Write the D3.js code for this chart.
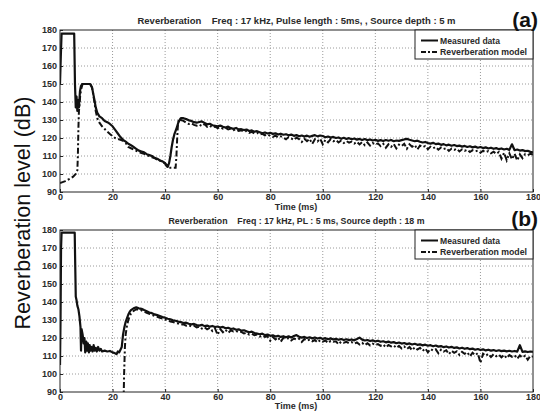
<!DOCTYPE html>
<html>
<head>
<meta charset="utf-8">
<script src="https://cdn.jsdelivr.net/npm/d3@7"></script>
<style>
  html, body { margin: 0; padding: 0; background: #fff; }
  svg { display: block; }
  text { font-family: Arial, "Liberation Sans", sans-serif; }
</style>
</head>
<body>
<svg id="chart" width="540" height="414"></svg>
<script>
// ---------------- DATA ----------------
const xTicks = [0, 20, 40, 60, 80, 100, 120, 140, 160, 180];
const yTicks = [90, 100, 110, 120, 130, 140, 150, 160, 170, 180];
const seriesNames = ["Measured data", "Reverberation model"];
const titleA = "Reverberation    Freq : 17 kHz, Pulse length : 5ms, , Source depth : 5 m";
const titleB = "Reverberation    Freq : 17 kHz, PL : 5 ms, Source depth : 18 m";

// Panel (a) measured: explicit head [time, dB], then tail at 1 ms steps from 47 ms
const measA_head = [[0,150],[0.3,165],[0.6,178],[5.4,178],[5.7,150],[6,137],[6.3,143],[6.6,135],[6.9,141],[7.2,137],[7.6,146],[8,149],[8.5,150],[11.5,150],[12.2,148],[13,142],[13.6,137],[14.2,134],[15,132],[16,131],[17,129.5],[18,128.8],[19,127.8],[20,126.5],[21,124.5],[22,122.5],[23,120.5],[24,119],[25,118],[26,116.8],[27,116],[28,115],[29,114],[30,113],[31,112.5],[32,112],[33,111],[34,110.5],[35,110],[36,109],[37,108.5],[38,107.5],[39,107],[40,106],[41,104],[41.5,106],[42,110],[42.5,115],[43,119],[43.5,122],[44,124],[44.5,126],[45,128.5],[45.5,130],[46,131]];
const measA_tailStart = 47;
const measA_tail = [131,130.5,129.8,129.5,128.8,128.5,128.9,129.2,128.4,127.6,127.9,127.1,126.8,126.5,126.9,126.2,125.8,126.3,125.5,125.1,125.6,124.8,124.9,124.4,124.7,123.9,124.2,123.5,123.8,123.2,122.6,123.1,122.5,122.9,122.3,122.6,121.9,122.4,121.8,122.1,121.5,121.9,121.2,121.6,121.0,121.4,120.8,121.3,120.7,121.2,121.6,120.9,121.4,121.1,120.4,120.8,120.2,120.6,120.0,120.3,119.6,120.1,119.5,119.9,119.3,119.7,119.1,119.5,118.9,119.4,118.8,119.2,118.6,119.0,118.4,118.8,118.3,118.9,118.5,118.9,118.2,118.6,118.4,118.8,119.2,119.5,119.0,118.6,118.2,118.5,117.9,117.5,117.8,117.2,116.9,117.3,116.6,116.9,116.2,116.6,115.9,116.3,115.7,116.1,115.5,115.8,115.2,115.6,115.0,115.4,114.8,115.2,114.6,115.0,114.4,114.8,114.2,114.6,114.0,114.4,113.8,114.2,113.6,114.0,113.4,116.5,113.2,113.6,113.0,113.3,112.7,112.9,112.3,112.0];

// Panel (a) model
const modA_head = [[0,95],[1,95.5],[2,96],[3,96.8],[4,97.5],[5,98.5],[6,100],[6.6,102],[6.8,110],[7,125],[7.2,135],[7.4,138],[7.7,144],[8.2,148],[8.6,150],[11.5,150],[12.2,148],[13,141],[13.6,135],[14.2,131],[15,128.5],[16,126.5],[17,125],[18,123.5],[19,122.2],[20,121],[21,120],[22,119.5],[23,119],[24,118.5],[25,117.2],[26,115],[27,114.3],[28,113.6],[29,112.9],[30,112.3],[31,111.6],[32,111.2],[33,110.4],[34,110],[35,109.3],[36,108.8],[37,108],[38,107.5],[39,106.8],[40,105.8],[40.5,104.5],[41,103.5],[44,103.5],[44.3,110],[44.6,120],[44.9,128],[45.3,130.5]];
const modA_tailStart = 46;
const modA_tail = [130,129.5,128.5,127.8,128.2,127.3,126.8,127.5,126.6,127.8,126.2,126.9,125.8,126.3,125.5,126.0,125.2,125.6,124.8,125.2,124.3,124.8,123.9,124.3,123.5,123.9,122.8,123.4,122.5,122.9,121.9,122.3,121.5,122.0,121.2,120.6,121.3,120.4,120.9,120.1,119.3,120.5,119.8,118.9,120.2,119.4,117.8,119.6,118.2,119.5,116.8,119.3,118.1,119.6,116.5,119.0,117.6,119.4,118.2,118.9,117.5,118.6,117.2,118.3,117.4,118.0,116.9,117.9,116.4,117.7,116.0,117.5,115.8,117.2,116.3,117.0,115.5,116.8,114.6,116.5,115.1,116.7,114.2,116.3,115.5,116.8,114.0,116.5,115.2,116.1,113.6,115.8,114.9,115.6,113.8,115.2,114.3,115.0,113.5,114.7,113.9,114.4,112.8,114.1,113.4,114.0,112.5,113.7,112.9,113.5,112.2,113.2,112.6,113.0,111.8,112.9,112.1,112.7,111.5,112.4,111.2,112.2,108.5,111.8,107.6,111.5,108.2,111.2,107.5,110.9,108.8,111.0,110.5,111.2,110.8];

// Panel (b) measured
const measB_head = [[0,105],[0.2,130],[0.4,170],[0.6,178.5],[5.6,178.5],[5.8,160],[6,143],[6.3,141],[6.6,138],[7,136],[7.4,132],[7.8,126],[8,113],[8.2,125],[8.6,122],[9,117],[9.3,120],[9.6,112],[10,118],[10.3,113],[10.6,117],[11,112],[11.3,116],[11.6,113],[12,115],[12.4,112.5],[12.8,116],[13.2,113],[13.6,114.5],[14,112.5],[14.5,115],[15,113],[15.5,114],[16,112.5],[17,113],[18,112.5],[19,112.8],[20,112],[21,111.5],[21.5,111],[22,112.5],[22.5,112],[23,113.5],[23.5,115],[24,122],[24.5,126],[25,129],[25.5,131],[26,133],[26.5,134.5],[27,135.5],[28,136.5],[29,137],[30,136.5]];
const measB_tailStart = 31;
const measB_tail = [136.2,135.5,134.9,134.2,133.8,133.1,132.7,132.2,131.6,131.3,130.7,130.4,129.8,129.6,129.1,128.8,128.3,128.5,127.9,127.6,127.8,127.2,126.9,127.3,126.6,126.9,126.3,126.7,126.1,126.4,125.8,126.2,125.4,125.7,125.0,125.3,124.6,124.8,124.1,124.3,123.7,123.2,123.5,122.8,122.5,122.1,122.4,121.6,121.9,121.2,121.5,120.8,121.2,120.6,121.0,120.4,120.9,120.3,121.1,121.6,120.7,120.2,120.6,120.0,120.4,119.8,120.3,119.7,120.1,119.5,119.9,119.3,119.8,119.2,119.6,119.0,119.4,118.9,119.3,118.8,119.2,118.7,119.4,120.2,119.1,118.6,118.9,118.3,118.7,118.1,118.5,117.9,118.2,117.6,118.0,117.4,117.7,117.1,117.5,116.9,117.2,116.6,117.0,116.4,116.8,116.2,116.5,115.9,116.3,115.7,116.0,115.4,115.8,115.2,115.5,114.9,115.3,114.7,115.1,114.5,114.8,114.2,114.6,114.0,114.4,113.8,114.1,113.5,113.9,113.3,113.7,113.1,113.5,113.0,113.3,112.8,113.2,112.7,113.0,112.6,112.9,112.5,112.8,112.4,116.0,112.3,112.6,112.2,112.5,112.3];

// Panel (b) model
const modB_head = [[24.2,85],[24.4,100],[24.7,115],[25,122],[25.5,127],[26,130],[26.5,132],[27,133.5],[28,135],[29,136],[30,135.8]];
const modB_tailStart = 31;
const modB_tail = [135.4,134.6,134.0,133.4,132.9,132.2,131.8,131.2,130.8,130.2,129.9,129.2,128.9,128.3,128.0,127.4,127.6,126.9,127.2,126.4,126.8,125.9,126.3,125.2,126.0,124.8,125.6,123.9,125.3,121.8,124.9,123.2,124.6,122.9,124.2,123.6,123.9,123.1,123.4,122.5,122.9,121.9,122.3,121.5,121.9,120.8,121.4,120.6,120.9,118.5,120.5,119.2,120.3,117.9,120.1,119.5,119.9,118.6,119.7,119.2,119.6,117.8,119.4,118.5,119.1,118.2,118.9,117.5,118.8,118.0,118.6,117.2,118.4,117.9,118.2,116.5,118.0,117.4,117.9,117.1,117.7,116.8,117.5,116.4,117.3,116.0,117.1,115.9,116.9,116.1,116.6,115.7,116.4,114.8,116.1,115.3,115.9,114.5,115.6,114.2,115.3,113.9,115.0,113.2,114.8,113.6,114.5,112.8,114.2,112.1,113.9,113.0,113.7,111.5,113.5,112.4,113.2,111.0,112.9,111.8,112.6,110.6,112.3,111.2,112.1,109.8,111.8,110.5,111.6,106.2,111.3,110.1,111.2,109.4,111.0,109.9,110.8,109.2,110.6,108.8,110.5,109.6,110.4,108.5,110.3,109.1,110.2,107.9,110.0,109.6];

// --------------- helpers ---------------
function buildSeries(head, tailStart, tail) {
  const pts = head.map(d => ({t: d[0], v: d[1]}));
  tail.forEach((v, i) => pts.push({t: tailStart + i, v: v}));
  return pts;
}

const svg = d3.select("#chart");

const panels = [
  { top: 30, title: titleA, titleW: 318, tag: "(a)", tagY: 27, titleY: 23.5, timeY: 210,
    meas: buildSeries(measA_head, measA_tailStart, measA_tail),
    model: buildSeries(modA_head, modA_tailStart, modA_tail) },
  { top: 230, title: titleB, titleW: 256, tag: "(b)", tagY: 226, titleY: 223.5, timeY: 409,
    meas: buildSeries(measB_head, measB_tailStart, measB_tail),
    model: buildSeries(modB_head, modB_tailStart, modB_tail) }
];

const left = 60, right = 533, plotH = 162;
const legendTextW = [60, 87];

panels.forEach((p, idx) => {
  const x = d3.scaleLinear().domain([0, 180]).range([left, right]);
  const y = d3.scaleLinear().domain([90, 180]).range([p.top + plotH, p.top]);
  const g = svg.append("g");

  const clipId = "clip" + idx;
  svg.append("clipPath").attr("id", clipId)
    .append("rect").attr("x", left).attr("y", p.top).attr("width", right - left).attr("height", plotH);

  // grid
  g.append("g").selectAll("line").data(xTicks.slice(1, -1)).join("line")
    .attr("x1", d => x(d)).attr("x2", d => x(d))
    .attr("y1", p.top).attr("y2", p.top + plotH)
    .attr("stroke", "#9a9a9a").attr("stroke-width", 1).attr("stroke-dasharray", "1,2");
  g.append("g").selectAll("line").data(yTicks.slice(1, -1)).join("line")
    .attr("x1", left).attr("x2", right)
    .attr("y1", d => y(d)).attr("y2", d => y(d))
    .attr("stroke", "#9a9a9a").attr("stroke-width", 1).attr("stroke-dasharray", "1,2");

  // axes (inside ticks, Matlab style)
  const xAxis = d3.axisBottom(x).tickValues(xTicks).tickSize(-3).tickPadding(2).tickFormat(d3.format("d"));
  const yAxis = d3.axisLeft(y).tickValues(yTicks).tickSize(-3).tickPadding(3).tickFormat(d3.format("d"));
  const gx = g.append("g").attr("transform", `translate(0,${p.top + plotH})`).call(xAxis);
  const gy = g.append("g").attr("transform", `translate(${left},0)`).call(yAxis);
  [gx, gy].forEach(a => {
    a.select(".domain").remove();
    a.selectAll("line").attr("stroke", "#222");
    a.selectAll("text").attr("font-size", 9).attr("font-weight", "bold").attr("fill", "#2a2a2a");
  });

  // lines
  const line = d3.line().x(d => x(d.t)).y(d => y(d.v));
  const lg = g.append("g").attr("clip-path", `url(#${clipId})`);
  lg.append("path").datum(p.model).attr("d", line)
    .attr("fill", "none").attr("stroke", "#111").attr("stroke-width", 2)
    .attr("stroke-dasharray", "6,2.5,2,2.5");
  lg.append("path").datum(p.meas).attr("d", line)
    .attr("fill", "none").attr("stroke", "#111").attr("stroke-width", 2.2)
    .attr("stroke-linejoin", "round");

  // frame
  g.append("rect").attr("x", left).attr("y", p.top).attr("width", right - left).attr("height", plotH)
    .attr("fill", "none").attr("stroke", "#222").attr("stroke-width", 1);

  // legend
  const lx = 415, ly = p.top, lw = right - lx, lh = 29;
  const leg = g.append("g");
  leg.append("rect").attr("x", lx).attr("y", ly).attr("width", lw).attr("height", lh)
    .attr("fill", "#fff").attr("stroke", "#222").attr("stroke-width", 1);
  seriesNames.forEach((name, i) => {
    const yy = ly + 10.5 + i * 11.5;
    leg.append("line").attr("x1", lx + 6).attr("x2", lx + 23).attr("y1", yy).attr("y2", yy)
      .attr("stroke", "#111").attr("stroke-width", 2)
      .attr("stroke-dasharray", i === 0 ? null : "5,2,2,2");
    leg.append("text").attr("x", lx + 25).attr("y", yy + 3.3).attr("font-size", 9.2)
      .attr("font-weight", "bold").attr("fill", "#2a2a2a")
      .attr("textLength", legendTextW[i]).attr("lengthAdjust", "spacingAndGlyphs")
      .text(name);
  });

  // title
  g.append("text").attr("x", (left + right) / 2).attr("y", p.titleY)
    .attr("text-anchor", "middle").attr("font-size", 9.2).attr("font-weight", "bold")
    .attr("fill", "#2a2a2a").style("white-space", "pre")
    .attr("textLength", p.titleW).attr("lengthAdjust", "spacingAndGlyphs")
    .text(p.title);

  // x label
  g.append("text").attr("x", 296).attr("y", p.timeY).attr("text-anchor", "middle")
    .attr("font-size", 9).attr("font-weight", "bold").attr("fill", "#2a2a2a").text("Time (ms)");

  // panel tag
  g.append("text").attr("x", 538).attr("y", p.tagY).attr("text-anchor", "end")
    .attr("font-size", 21).attr("font-weight", "bold").attr("fill", "#111").text(p.tag);
});

// shared y label
svg.append("text")
  .attr("transform", "translate(30,213) rotate(-90)")
  .attr("text-anchor", "middle")
  .attr("font-family", "'Noto Sans', sans-serif")
  .attr("font-size", 22).attr("fill", "#111")
  .attr("textLength", 233).attr("lengthAdjust", "spacingAndGlyphs")
  .text("Reverberation level (dB)");
</script>
</body>
</html>
